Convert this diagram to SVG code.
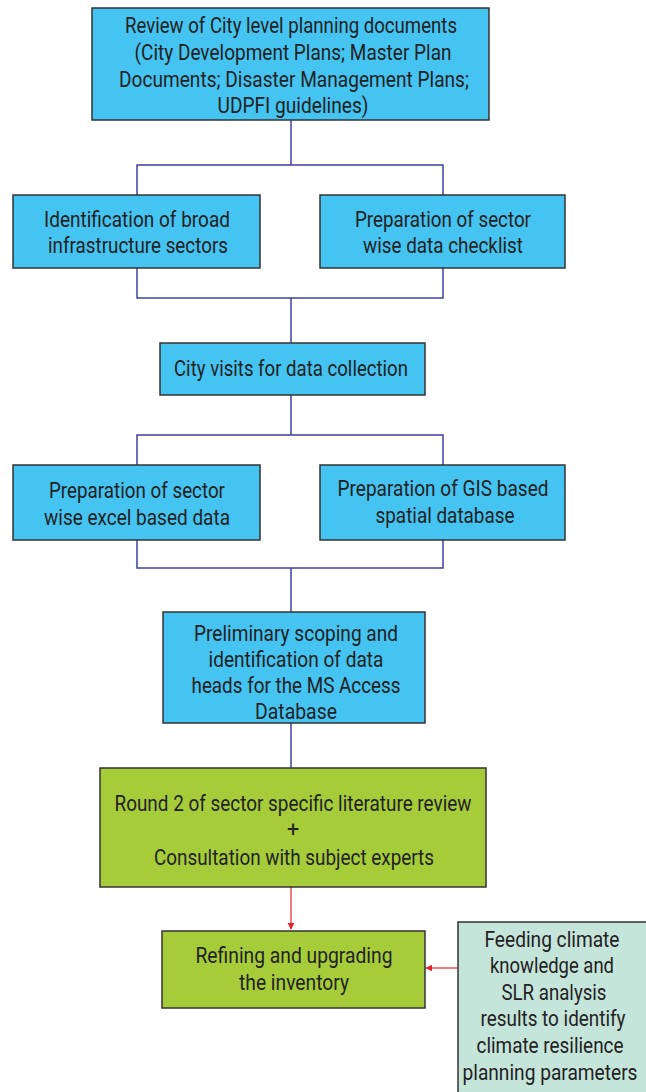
<svg xmlns="http://www.w3.org/2000/svg" width="646" height="1092" viewBox="0 0 646 1092">
  <style>
    .blue { fill: #45C3F1; stroke: #333; stroke-width: 1.5; }
    .green { fill: #A6CD39; stroke: #333; stroke-width: 1.5; }
    .mint { fill: #C5E4DA; stroke: #333; stroke-width: 1.5; }
    text { font-family: "Roboto", "Liberation Sans", sans-serif; font-size: 21.5px; fill: #222; text-anchor: middle; }
    .link { fill: none; stroke: #4040A0; stroke-width: 1.5; }
    .red { fill: none; stroke: #E8202A; stroke-width: 1.2; }
  </style>
  <defs>
    <marker id="arrow" viewBox="0 0 10 10" refX="9" refY="5" markerWidth="6" markerHeight="6" orient="auto">
      <path d="M0,0 L10,5 L0,10 z" fill="#E8202A"/>
    </marker>
  </defs>

  <g id="connectors">
    <path class="link" d="M291,120 V165 M137,195 V165 H443 V195"/>
    <path class="link" d="M137,268 V298 H443 V268 M291,298 V343"/>
    <path class="link" d="M291,395 V435 M137,465 V435 H443 V465"/>
    <path class="link" d="M137,540 V568 H443 V540 M291,568 V612"/>
    <path class="link" d="M291,723 V768"/>
    <path class="red" d="M291,887 V929" marker-end="url(#arrow)"/>
    <path class="red" d="M458,968 H426" marker-end="url(#arrow)"/>
  </g>

  <g id="review">
    <rect class="blue" x="92" y="8" width="397" height="112"/>
    <text x="291" y="33" textLength="332" lengthAdjust="spacingAndGlyphs">Review of City level planning documents</text>
    <text x="293" y="60" textLength="317" lengthAdjust="spacingAndGlyphs">(City Development Plans; Master Plan</text>
    <text x="294" y="87" textLength="350" lengthAdjust="spacingAndGlyphs">Documents; Disaster Management Plans;</text>
    <text x="293" y="113" textLength="151" lengthAdjust="spacingAndGlyphs">UDPFI guidelines)</text>
  </g>

  <g id="sectors">
    <rect class="blue" x="13" y="195" width="247" height="73"/>
    <text x="137" y="227" textLength="186" lengthAdjust="spacingAndGlyphs">Identification of broad</text>
    <text x="138" y="253" textLength="180" lengthAdjust="spacingAndGlyphs">infrastructure sectors</text>
  </g>

  <g id="checklist">
    <rect class="blue" x="320" y="195" width="245" height="73"/>
    <text x="443" y="227" textLength="176" lengthAdjust="spacingAndGlyphs">Preparation of sector</text>
    <text x="443" y="253" textLength="160" lengthAdjust="spacingAndGlyphs">wise data checklist</text>
  </g>

  <g id="visits">
    <rect class="blue" x="160" y="343" width="265" height="52"/>
    <text x="291" y="376" textLength="234" lengthAdjust="spacingAndGlyphs">City visits for data collection</text>
  </g>

  <g id="excel">
    <rect class="blue" x="13" y="465" width="247" height="75"/>
    <text x="137" y="498" textLength="176" lengthAdjust="spacingAndGlyphs">Preparation of sector</text>
    <text x="137" y="525" textLength="186" lengthAdjust="spacingAndGlyphs">wise excel based data</text>
  </g>

  <g id="gis">
    <rect class="blue" x="320" y="465" width="245" height="75"/>
    <text x="443" y="496" textLength="211" lengthAdjust="spacingAndGlyphs">Preparation of GIS based</text>
    <text x="445" y="523" textLength="139" lengthAdjust="spacingAndGlyphs">spatial database</text>
  </g>

  <g id="scoping">
    <rect class="blue" x="163" y="612" width="262" height="111"/>
    <text x="296" y="641" textLength="204" lengthAdjust="spacingAndGlyphs">Preliminary scoping and</text>
    <text x="296" y="667" textLength="175" lengthAdjust="spacingAndGlyphs">identification of data</text>
    <text x="296" y="693" textLength="209" lengthAdjust="spacingAndGlyphs">heads for the MS Access</text>
    <text x="296" y="719" textLength="82" lengthAdjust="spacingAndGlyphs">Database</text>
  </g>

  <g id="round2">
    <rect class="green" x="100" y="768" width="386" height="119"/>
    <text x="293" y="811" textLength="357" lengthAdjust="spacingAndGlyphs">Round 2 of sector specific literature review</text>
    <text x="293" y="837">+</text>
    <text x="294" y="865" textLength="280" lengthAdjust="spacingAndGlyphs">Consultation with subject experts</text>
  </g>

  <g id="refining">
    <rect class="green" x="162" y="931" width="263" height="77"/>
    <text x="294" y="963" textLength="197" lengthAdjust="spacingAndGlyphs">Refining and upgrading</text>
    <text x="294" y="990" textLength="110" lengthAdjust="spacingAndGlyphs">the inventory</text>
  </g>

  <g id="feeding">
    <rect class="mint" x="458" y="922" width="196" height="180"/>
    <text x="552" y="947" textLength="135" lengthAdjust="spacingAndGlyphs">Feeding climate</text>
    <text x="552" y="973" textLength="124" lengthAdjust="spacingAndGlyphs">knowledge and</text>
    <text x="554" y="1000" textLength="105" lengthAdjust="spacingAndGlyphs">SLR analysis</text>
    <text x="553" y="1026" textLength="145" lengthAdjust="spacingAndGlyphs">results to identify</text>
    <text x="550" y="1053" textLength="147" lengthAdjust="spacingAndGlyphs">climate resilience</text>
    <text x="550" y="1080" textLength="175" lengthAdjust="spacingAndGlyphs">planning parameters</text>
  </g>
</svg>
